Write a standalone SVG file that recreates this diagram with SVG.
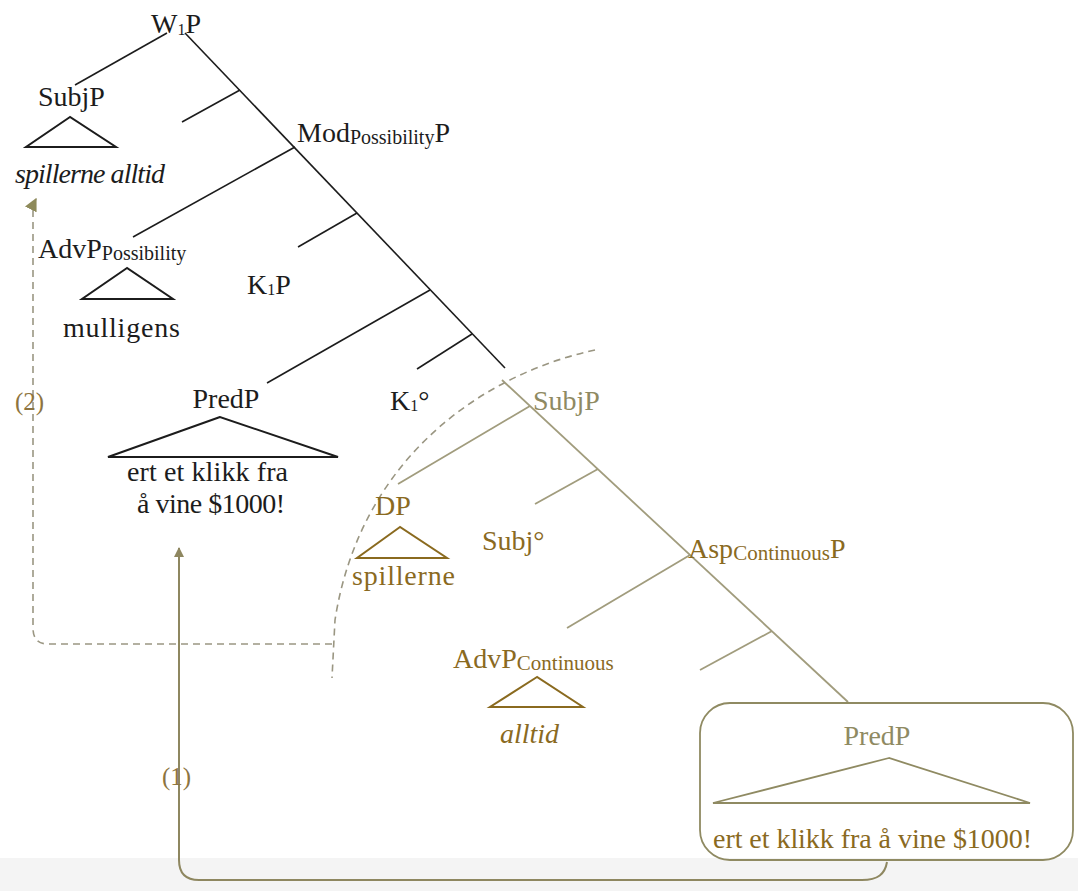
<svg xmlns="http://www.w3.org/2000/svg" width="1078" height="891" viewBox="0 0 1078 891">
  <style>
    text { font-family: "Liberation Serif", "Times New Roman", "DejaVu Serif", serif; font-size: 28px; }
    .blk { fill: #1c1c1c; }
    .olv { fill: #8f8a62; }
    .brn { fill: #8a6a1f; }
    .num { fill: #8d7440; font-size: 25px; }
    .it { font-style: italic; }
    .sub { font-size: 20px; }
    .sub2 { font-size: 21px; }
    .e-blk { stroke: #1c1c1c; stroke-width: 1.6; fill: none; }
    .e-olv { stroke: #a19c7d; stroke-width: 1.8; fill: none; }
    .tri-blk { stroke: #1c1c1c; stroke-width: 2; fill: none; }
    .tri-brn { stroke: #8a6a1f; stroke-width: 2; fill: none; }
    .tri-olv { stroke: #8f8a62; stroke-width: 1.8; fill: none; }
    .dash { stroke: #9a9682; stroke-width: 1.6; fill: none; stroke-dasharray: 7 5; }
    .move { stroke: #8e8760; stroke-width: 2; fill: none; }
  </style>
  <defs>
    <marker id="head" viewBox="0 0 10 10" refX="9" refY="5" markerWidth="10" markerHeight="10" markerUnits="userSpaceOnUse" orient="auto">
      <path d="M0,0 L10,5 L0,10 z" fill="#8e8760"/>
    </marker>
    <marker id="head-dash" viewBox="0 0 10 10" refX="9" refY="5" markerWidth="13" markerHeight="13" markerUnits="userSpaceOnUse" orient="auto">
      <path d="M0,0 L10,5 L0,10 z" fill="#8e8a5a"/>
    </marker>
  </defs>

  <rect x="0" y="0" width="1078" height="891" fill="#ffffff"/>
  <rect x="0" y="858" width="1078" height="33" fill="#f4f4f4"/>

  <!-- tree edges and movement arrows -->
  <g id="connectors">
    <!-- upper spine -->
    <path class="e-blk" d="M185 33 L505 368"/>
    <path class="e-blk" d="M167 33 L75 85"/>
    <path class="e-blk" d="M240 90 L182 122"/>
    <path class="e-blk" d="M295 147 L133 237"/>
    <path class="e-blk" d="M357 213 L298 247"/>
    <path class="e-blk" d="M430 290 L267 383"/>
    <path class="e-blk" d="M472 334 L417 369"/>
    <!-- lower spine -->
    <path class="e-olv" d="M502 380 L848 702"/>
    <path class="e-olv" d="M530 406 L398 484"/>
    <path class="e-olv" d="M598 469 L535 504"/>
    <path class="e-olv" d="M690 555 L567 628"/>
    <path class="e-olv" d="M772 631 L700 670"/>
    <!-- boundary arc -->
    <path class="dash" d="M595 350 C480 375 360 460 335 620 L332 678"/>
    <!-- movement (2) -->
    <path class="dash" d="M332 644 L48 644 Q33 644 33 628 L33 212 Q33 205 36 199" marker-end="url(#head-dash)"/>
    <!-- movement (1) -->
    <path class="move" d="M887 862 C885 874 878 880 862 880 L199 880 Q179 880 179 860 L179 548" marker-end="url(#head)"/>
  </g>

  <g id="w1p">
    <text class="blk" x="151" y="33">W<tspan font-size="16" dy="2">1</tspan><tspan dy="-2">P</tspan></text>
  </g>

  <g id="subjp-high">
    <text class="blk" x="38" y="106">SubjP</text>
    <path class="tri-blk" d="M70 117 L26 147 L116 147 Z"/>
    <text class="blk it" x="15" y="183" font-size="27" textLength="150">spillerne alltid</text>
  </g>

  <g id="modp">
    <text class="blk" x="297" y="142">Mod<tspan class="sub" dy="2">Possibility</tspan><tspan dy="-2">P</tspan></text>
  </g>

  <g id="advp-possibility">
    <text class="blk" x="38" y="258">AdvP<tspan class="sub" dy="2">Possibility</tspan></text>
    <path class="tri-blk" d="M127 268 L82 299 L173 299 Z"/>
    <text class="blk" x="63" y="337" textLength="117">mulligens</text>
  </g>

  <g id="k1p">
    <text class="blk" x="247" y="294">K<tspan font-size="16" dy="1">1</tspan><tspan dy="-1">P</tspan></text>
  </g>

  <g id="predp-high">
    <text class="blk" x="226" y="408" text-anchor="middle">PredP</text>
    <path class="tri-blk" d="M220 417 L108 457 L338 457 Z"/>
    <text class="blk" x="127" y="481" textLength="161">ert et klikk fra</text>
    <text class="blk" x="137" y="513" textLength="148">å vine $1000!</text>
  </g>

  <g id="k1-head">
    <text class="blk" x="390" y="410">K<tspan font-size="16" dy="1">1</tspan><tspan dy="-1">°</tspan></text>
  </g>

  <g id="subjp-low">
    <text class="olv" x="533" y="410">SubjP</text>
  </g>

  <g id="dp">
    <text class="brn" x="375" y="515">DP</text>
    <path class="tri-brn" d="M400 527 L357 558 L447 558 Z"/>
    <text class="brn" x="352" y="585" textLength="103">spillerne</text>
  </g>

  <g id="subj-head">
    <text class="brn" x="482" y="550">Subj°</text>
  </g>

  <g id="aspp">
    <text class="brn" x="688" y="558">Asp<tspan class="sub2" dy="2">Continuous</tspan><tspan dy="-2">P</tspan></text>
  </g>

  <g id="advp-continuous">
    <text class="brn" x="453" y="668">AdvP<tspan class="sub2" dy="2">Continuous</tspan></text>
    <path class="tri-brn" d="M537 677 L490 707 L583 707 Z"/>
    <text class="brn it" x="500" y="743" font-size="27">alltid</text>
  </g>

  <g id="predp-low">
    <rect x="700" y="703" width="373" height="157" rx="30" ry="30" fill="none" stroke="#8f8a62" stroke-width="1.8"/>
    <text class="olv" x="877" y="745" text-anchor="middle">PredP</text>
    <path class="tri-olv" d="M889 758 L713 803 L1030 803 Z"/>
    <text class="brn" x="713" y="848" textLength="319">ert et klikk fra å vine $1000!</text>
  </g>

  <g id="labels">
    <text class="num" x="15" y="410">(2)</text>
    <text class="num" x="162" y="785">(1)</text>
  </g>
</svg>
